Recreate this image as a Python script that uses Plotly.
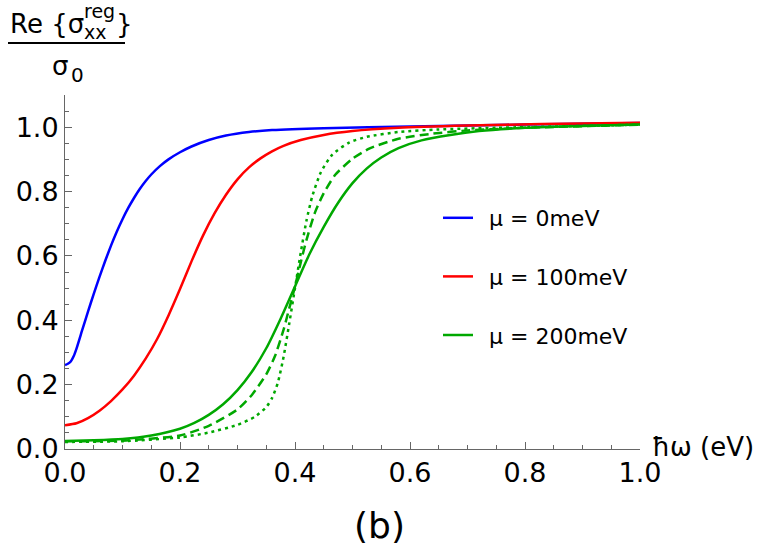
import plotly.graph_objects as go

# ---- data ----
x_mu0 = [0, 0.005, 0.01, 0.015, 0.02, 0.03, 0.04, 0.05, 0.06, 0.07, 0.08, 0.09, 0.10, 0.11, 0.12,
         0.13, 0.14, 0.15, 0.165, 0.18, 0.2, 0.22, 0.25, 0.28, 0.32, 0.36, 0.45, 0.6, 0.8, 1.0]
y_mu0 = [0.261, 0.265, 0.272, 0.288, 0.312, 0.37, 0.427, 0.482, 0.535, 0.585, 0.632, 0.675, 0.714,
         0.749, 0.78, 0.808, 0.832, 0.853, 0.879, 0.9, 0.922, 0.94, 0.96, 0.974, 0.985, 0.991,
         0.997, 1.002, 1.008, 1.013]

x_mu100 = [0, 0.02, 0.04, 0.06, 0.08, 0.1, 0.12, 0.14, 0.16, 0.18, 0.2, 0.22, 0.24, 0.26, 0.28,
           0.3, 0.32, 0.34, 0.36, 0.38, 0.41, 0.45, 0.5, 0.58, 0.7, 0.83, 1.0]
y_mu100 = [0.074, 0.08, 0.096, 0.119, 0.149, 0.185, 0.228, 0.28, 0.341, 0.415, 0.497, 0.583, 0.663,
           0.732, 0.79, 0.838, 0.875, 0.903, 0.925, 0.942, 0.96, 0.976, 0.988, 0.998, 1.005, 1.01, 1.014]

x_mu200 = [0, 0.05, 0.1, 0.15, 0.2, 0.225, 0.25, 0.275, 0.3, 0.325, 0.35, 0.375, 0.4, 0.425,
           0.45, 0.475, 0.5, 0.525, 0.55, 0.58, 0.62, 0.67, 0.72, 0.8, 0.9, 1.0]
y_mu200 = [0.025, 0.027, 0.031, 0.042, 0.063, 0.081, 0.106, 0.139, 0.183, 0.24, 0.313, 0.405,
           0.505, 0.605, 0.69, 0.765, 0.826, 0.872, 0.906, 0.935, 0.959, 0.976, 0.988, 0.998,
           1.004, 1.008]

x_mu200_dash = [0, 0.1, 0.2, 0.25, 0.3, 0.325, 0.35, 0.365, 0.38, 0.39, 0.4, 0.41, 0.42, 0.435,
                0.45, 0.47, 0.5, 0.53, 0.58, 0.64, 0.7, 0.8, 1.0]
y_mu200_dash = [0.024, 0.026, 0.042, 0.072, 0.123, 0.168, 0.232, 0.288, 0.37, 0.437, 0.505, 0.58,
                0.65, 0.736, 0.795, 0.852, 0.902, 0.934, 0.964, 0.98, 0.99, 0.998, 1.008]

x_mu200_dot = [0, 0.1, 0.2, 0.25, 0.3, 0.33, 0.35, 0.36, 0.37, 0.38, 0.39, 0.4, 0.41, 0.42, 0.43,
               0.445, 0.465, 0.495, 0.525, 0.58, 0.65, 0.75, 1.0]
y_mu200_dot = [0.022, 0.024, 0.036, 0.051, 0.075, 0.1, 0.13, 0.158, 0.205, 0.285, 0.39, 0.5, 0.61,
               0.71, 0.785, 0.86, 0.915, 0.953, 0.97, 0.985, 0.993, 0.998, 1.008]

legend_labels = ["μ = 0meV", "μ = 100meV", "μ = 200meV"]
x_ticks = [0.0, 0.2, 0.4, 0.6, 0.8, 1.0]
y_ticks = [0.0, 0.2, 0.4, 0.6, 0.8, 1.0]

BLUE = "#0000FF"
RED = "#FF0000"
GREEN = "#00A800"
FONT = "DejaVu Sans"

W, H = 762, 552
L, R, T, B = 65, 122, 95, 103
PW, PH = W - L - R, H - T - B


def px(x):
    return (x - L) / PW


def py(y):
    return (H - B - y) / PH


fig = go.Figure()
line_kw = dict(shape="spline", smoothing=0.6, width=2.5)

fig.add_trace(go.Scatter(x=x_mu0, y=y_mu0, mode="lines", name="\u2002" + legend_labels[0],
                         legendgroup="a", line=dict(color=BLUE, **line_kw)))
fig.add_trace(go.Scatter(x=x_mu100, y=y_mu100, mode="lines", name="\u2002" + legend_labels[1],
                         legendgroup="b", line=dict(color=RED, **line_kw)))
fig.add_trace(go.Scatter(x=x_mu200, y=y_mu200, mode="lines", name="\u2002" + legend_labels[2],
                         legendgroup="c", line=dict(color=GREEN, **line_kw)))
fig.add_trace(go.Scatter(x=x_mu200_dash, y=y_mu200_dash, mode="lines", showlegend=False,
                         line=dict(color=GREEN, dash="9px,5px", **line_kw)))
fig.add_trace(go.Scatter(x=x_mu200_dot, y=y_mu200_dot, mode="lines", showlegend=False,
                         line=dict(color=GREEN, dash="3px,4px", **line_kw)))

axis_common = dict(
    showgrid=False, zeroline=False, showline=True, linecolor="#666", linewidth=1,
    ticks="inside", ticklen=7, tickcolor="#666", tickwidth=1,
    tickfont=dict(family=FONT, size=27, color="black"),
    minor=dict(ticks="inside", ticklen=4, tickcolor="#666", dtick=0.05, tickwidth=1),
)

fig.update_xaxes(range=[0, 1], tickvals=x_ticks, ticktext=[f"{v:.1f}" for v in x_ticks],
                 **axis_common)
fig.update_yaxes(range=[0, 1.1], tickvals=y_ticks, ticktext=[f"{v:.1f}" for v in y_ticks],
                 **axis_common)

ann = []
# y-axis title as a fraction
ann.append(dict(text="Re {σ", x=px(8), y=py(24), xanchor="left", yanchor="middle",
                font=dict(family=FONT, size=26, color="black")))
ann.append(dict(text="reg", x=px(82), y=py(11), xanchor="left", yanchor="middle",
                font=dict(family=FONT, size=19, color="black")))
ann.append(dict(text="xx", x=px(82), y=py(32), xanchor="left", yanchor="middle",
                font=dict(family=FONT, size=19, color="black")))
ann.append(dict(text="}", x=px(114), y=py(24), xanchor="left", yanchor="middle",
                font=dict(family=FONT, size=26, color="black")))
ann.append(dict(text="σ", x=px(50), y=py(66), xanchor="left", yanchor="middle",
                font=dict(family=FONT, size=26, color="black")))
ann.append(dict(text="0", x=px(69), y=py(75), xanchor="left", yanchor="middle",
                font=dict(family=FONT, size=20, color="black")))
# x-axis title
ann.append(dict(text="ħω (eV)", x=px(650), y=py(447), xanchor="left", yanchor="middle",
                font=dict(family=FONT, size=26, color="black")))
# panel label
ann.append(dict(text="(b)", x=px(379), y=py(525), xanchor="center", yanchor="middle",
                font=dict(family=FONT, size=36, color="black")))
for a in ann:
    a.update(xref="paper", yref="paper", showarrow=False)

fig.update_layout(
    width=W, height=H,
    margin=dict(l=L, r=R, t=T, b=B, pad=0),
    paper_bgcolor="white", plot_bgcolor="white",
    annotations=ann,
    shapes=[dict(type="line", xref="paper", yref="paper", x0=px(8), x1=px(125),
                 y0=py(43), y1=py(43), line=dict(color="black", width=2))],
    showlegend=True,
    legend=dict(x=px(438), y=py(197), xanchor="left", yanchor="top",
                font=dict(family=FONT, size=22, color="black"),
                bgcolor="rgba(0,0,0,0)", tracegroupgap=27, itemwidth=30),
)

fig.write_html("out.html")
